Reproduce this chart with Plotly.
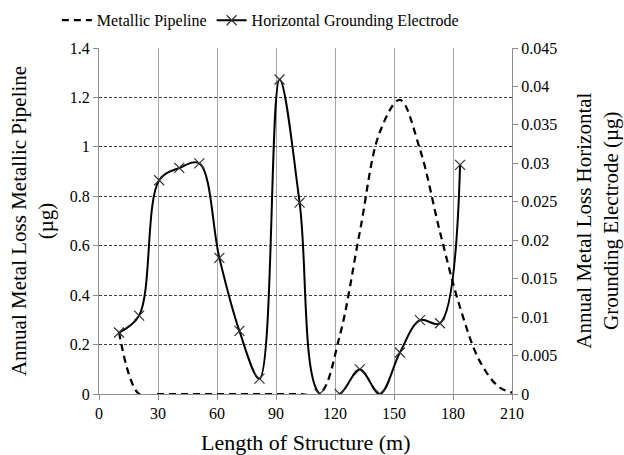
import plotly.graph_objects as go

# Data
x_pos = [10.2, 20.4, 30.6, 40.8, 51.0, 61.2, 71.4, 81.6, 91.8, 102.0,
         112.2, 122.4, 132.6, 142.8, 153.0, 163.2, 173.4, 183.6]
electrode = [0.008, 0.0102, 0.0278, 0.0294, 0.0300, 0.0177, 0.0082, 0.0020, 0.0409, 0.0249,
             0.0, 0.0, 0.0032, 0.0, 0.0054, 0.0096, 0.0092, 0.0298]

pipe_x = [10.2, 20.4, 30.6, 40.8, 51.0, 61.2, 71.4, 81.6, 91.8, 102.0,
          112.2, 122.4, 132.6, 142.8, 153.0, 163.2, 173.4, 183.6, 193.8, 204.0, 214.2]
pipeline = [0.25, 0.0, 0.0, 0.0, 0.0, 0.0, 0.0, 0.0, 0.0, 0.0,
            0.0, 0.235, 0.655, 1.06, 1.19, 0.99, 0.655, 0.35, 0.13, 0.025, 0.0]

x_ticks = [0, 30, 60, 90, 120, 150, 180, 210]
y1_ticks = [0, 0.2, 0.4, 0.6, 0.8, 1.0, 1.2, 1.4]
y1_text = ["0", "0.2", "0.4", "0.6", "0.8", "1", "1.2", "1.4"]
y2_ticks = [0, 0.005, 0.01, 0.015, 0.02, 0.025, 0.03, 0.035, 0.04, 0.045]
y2_text = ["0", "0.005", "0.01", "0.015", "0.02", "0.025", "0.03", "0.035", "0.04", "0.045"]

FONT = "Times New Roman, Liberation Serif, DejaVu Serif, Liberation Sans, serif"

fig = go.Figure()
fig.add_trace(go.Scatter(
    x=pipe_x, y=pipeline, name="Metallic Pipeline", mode="lines",
    line=dict(color="black", width=2.25, dash="7px,5px", shape="spline", smoothing=1),
    yaxis="y"))
fig.add_trace(go.Scatter(
    x=x_pos, y=electrode, name="Horizontal Grounding Electrode", mode="lines+markers",
    line=dict(color="black", width=2, shape="spline", smoothing=1),
    marker=dict(symbol="x-thin", size=10, line=dict(color="#333333", width=1.2)),
    yaxis="y2"))

fig.update_layout(
    width=624, height=455,
    margin=dict(l=99, r=112, t=48, b=61, autoexpand=False),
    paper_bgcolor="white", plot_bgcolor="white",
    font=dict(family=FONT, size=16, color="black"),
    showlegend=True,
    legend=dict(orientation="h", x=-0.102, xanchor="left", y=1.08, yanchor="middle",
                font=dict(family=FONT, size=16), itemwidth=30, tracegroupgap=0,
                bgcolor="rgba(0,0,0,0)"),
    xaxis=dict(range=[0, 210], tickvals=x_ticks, showgrid=True, gridcolor="#A6A6A6",
               gridwidth=1, showline=True, linecolor="#8C8C8C", linewidth=1,
               ticks="outside", ticklen=5, tickcolor="#8C8C8C", zeroline=False,
               tickfont=dict(family=FONT, size=16)),
    yaxis=dict(range=[0, 1.4], tickvals=y1_ticks, ticktext=y1_text, showgrid=True,
               gridcolor="#404040", gridwidth=1, griddash="3px,2px",
               showline=True, linecolor="#8C8C8C", linewidth=1,
               ticks="outside", ticklen=5, tickcolor="#8C8C8C", zeroline=False,
               tickfont=dict(family=FONT, size=16)),
    yaxis2=dict(range=[0, 0.045], tickvals=y2_ticks, ticktext=y2_text, overlaying="y",
                side="right", showgrid=False, showline=True, linecolor="#8C8C8C",
                linewidth=1, ticks="outside", ticklen=5, tickcolor="#8C8C8C",
                zeroline=False, tickfont=dict(family=FONT, size=16)),
    annotations=[
        dict(text="Length of Structure (m)", xref="paper", yref="paper",
             x=0.5, y=-0.1415, xanchor="center", yanchor="middle",
             showarrow=False, font=dict(family=FONT, size=22)),
        dict(text="Annual Metal Loss Metallic Pipeline<br>(µg)", xref="paper", yref="paper",
             x=-0.162, y=0.5, xanchor="center", yanchor="middle", textangle=-90,
             showarrow=False, font=dict(family=FONT, size=21)),
        dict(text="Annual Metal Loss Horizontal<br>Grounding Electrode (µg)", xref="paper",
             yref="paper", x=1.205, y=0.5, xanchor="center", yanchor="middle",
             textangle=-90, showarrow=False, font=dict(family=FONT, size=21)),
    ],
)

fig.write_html("out.html")
